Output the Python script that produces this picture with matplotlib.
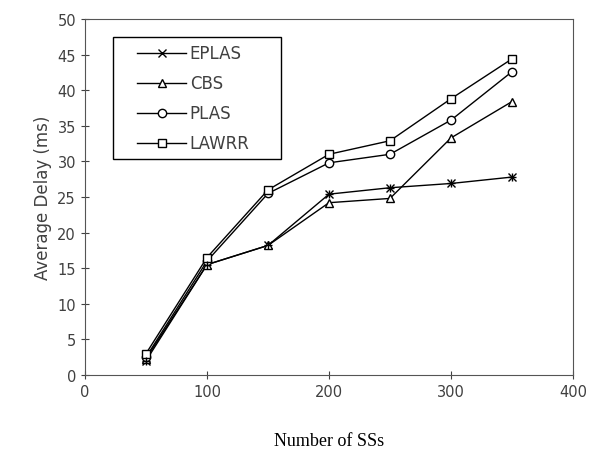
import matplotlib
matplotlib.use("Agg")
import matplotlib.pyplot as plt
from matplotlib.patches import Rectangle

ss = [50, 100, 150, 200, 250, 300, 350]
eplas = [2.0, 15.5, 18.2, 25.4, 26.3, 26.9, 27.8]
cbs = [2.3, 15.5, 18.2, 24.2, 24.8, 33.3, 38.4]
plas = [2.5, 16.0, 25.5, 29.8, 31.0, 35.8, 42.6]
lawrr = [3.0, 16.5, 26.0, 31.0, 32.9, 38.8, 44.4]

fig = plt.figure(figsize=(5.89, 4.56), dpi=100)
ax = fig.add_axes([85 / 589, 80 / 456, 488 / 589, 356 / 456])

style = dict(color="black", lw=1.0, ms=6, mfc="white", mec="black", mew=1.0)
ax.plot(ss, eplas, marker="x", label="EPLAS", **style)
ax.plot(ss, cbs, marker="^", label="CBS", **style)
ax.plot(ss, plas, marker="o", label="PLAS", **style)
ax.plot(ss, lawrr, marker="s", label="LAWRR", **style)
# overlay a plus on the x marker to make it look like an asterisk
ax.plot(ss, eplas, marker="+", ls="none", color="black", ms=6, mew=1.0)

ax.set_xlim(0, 400)
ax.set_ylim(0, 50)
ax.set_xticks(range(0, 401, 100))
ax.set_yticks(range(0, 51, 5))
ax.tick_params(direction="inout", length=6, labelsize=10.5, colors="#404040")
for s in ax.spines.values():
    s.set_color("#555555")

ax.set_ylabel("Average Delay (ms)", fontsize=12, color="#404040")
ax.set_xlabel("Number of SSs", fontsize=13, family="Liberation Serif", labelpad=24)

# legend box drawn separately so it can be wider than its content
ax.add_patch(Rectangle((0.057, 0.607), 0.345, 0.342, transform=ax.transAxes,
                       fill=True, facecolor="white", edgecolor="black", lw=1.0, zorder=4))
leg = ax.legend(loc="upper left", bbox_to_anchor=(0.1, 0.938), frameon=False,
                fontsize=12, handlelength=2.95, borderpad=0.2,
                labelspacing=0.72, handletextpad=0.2, borderaxespad=0)
leg.set_zorder(5)
for t in leg.get_texts():
    t.set_color("#404040")

fig.savefig("out.png")
